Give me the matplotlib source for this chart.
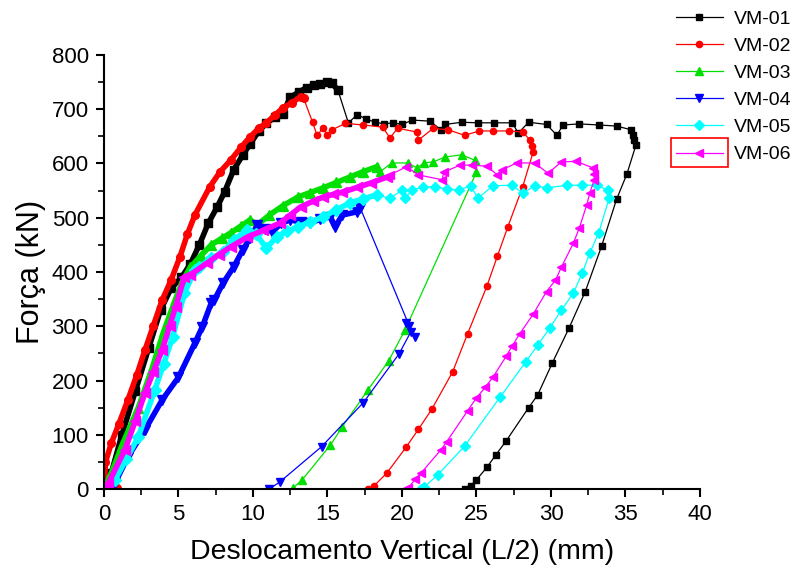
import matplotlib.pyplot as plt
from matplotlib.patches import Rectangle

plt.rcParams['font.family'] = ['Liberation Sans', 'DejaVu Sans']

# VM-01 (black squares): dense loading branch, then plateau + unloading
vm01_load_x = [0.3, 0.5, 1.2, 2.1, 3.0, 3.8, 4.5, 5.2, 5.8, 6.4, 7.0, 7.6, 8.1, 8.7, 9.3, 9.8,
               10.4, 10.9, 11.5, 12.0, 12.5, 13.1, 13.6, 14.1, 14.5, 15.0, 15.3, 15.7]
vm01_load_y = [0, 30, 100, 180, 260, 330, 370, 390, 415, 450, 490, 520, 548, 588, 615, 636,
               660, 675, 685, 692, 722, 732, 740, 744, 747, 750, 748, 735]
vm01_rest_x = [15.7, 16.4, 17.0, 17.6, 18.2, 18.8, 19.4, 20.0, 20.7, 21.9, 22.6, 22.9, 24.0, 25.1,
               26.2, 27.4, 27.8, 28.5, 29.7, 30.4, 30.8, 31.9, 33.2, 34.4, 35.4, 35.5, 35.6, 35.7,
               35.1, 34.4, 33.4, 32.3, 31.2, 30.1, 29.1, 28.5, 27.0, 26.3, 25.7, 25.0, 24.6, 24.2]
vm01_rest_y = [735, 675, 690, 682, 676, 673, 675, 672, 680, 678, 662, 672, 676, 675,
               675, 675, 656, 676, 672, 652, 671, 673, 671, 669, 662, 652, 643, 634,
               581, 534, 448, 364, 296, 233, 173, 150, 89, 63, 40, 17, 6, 0]

# VM-02 (red circles)
vm02_load_x = [0.9, 0.7, 0.05, 0.1, 0.5, 1.0, 1.6, 2.2, 2.75, 3.3, 3.9, 4.5, 5.1, 5.6, 6.1, 7.1,
               7.8, 8.5, 9.2, 9.8, 10.4, 10.9, 11.5, 12.0, 12.6, 13.2, 13.4]
vm02_load_y = [2, 10, 20, 50, 85, 120, 164, 210, 256, 300, 348, 385, 428, 470, 505, 557,
               585, 606, 630, 649, 665, 675, 690, 702, 712, 723, 720]
vm02_rest_x = [13.4, 14.0, 14.3, 14.7, 15.0, 15.3, 16.2, 17.4, 18.7, 19.2, 19.7, 21.0, 21.1, 22.1,
               23.1, 24.2, 25.2, 26.1, 27.2, 28.1, 28.6, 28.7, 28.8, 28.1, 27.1, 26.4, 25.7,
               24.4, 23.4, 22.0, 21.1, 20.3, 19.0, 18.1, 17.7]
vm02_rest_y = [720, 676, 652, 665, 653, 662, 674, 671, 667, 647, 665, 658, 643, 665,
               662, 652, 660, 660, 660, 658, 643, 632, 621, 557, 483, 429, 374,
               286, 216, 147, 110, 78, 30, 5, 0]

# VM-03 (green triangles up)
vm03_load_x = [0.0, 0.5, 1.2, 2.3, 3.2, 4.0, 4.8, 5.3, 5.8, 6.5, 7.2, 7.9, 8.5, 9.2, 9.8, 10.3,
               11.1, 12.0, 13.0, 13.8, 14.7, 15.6, 16.5, 17.4, 18.3]
vm03_load_y = [0, 30, 80, 150, 220, 290, 350, 385, 409, 430, 450, 462, 472, 485, 496, 487,
               505, 522, 538, 546, 555, 565, 575, 585, 594]
vm03_rest_x = [18.3, 18.5, 19.3, 20.4, 21.0, 21.5, 22.1, 22.9, 24.0, 24.9, 25.0,
               20.2, 19.1, 17.7, 16.0, 15.2, 13.3, 12.7]
vm03_rest_y = [594, 584, 601, 601, 592, 601, 603, 612, 616, 606, 584,
               293, 236, 182, 115, 81, 17, 2]

# VM-04 (blue triangles down)
vm04_load_x = [0.2, 0.74, 1.6, 2.75, 3.9, 5.0, 6.1, 6.6, 7.2, 7.4, 8.0, 8.7, 9.3, 9.8, 10.3,
               10.8, 11.3, 11.9, 12.5, 13.2, 13.8, 14.5, 15.2, 15.5, 16.0, 17.0, 17.2]
vm04_load_y = [0, 11, 59, 109, 164, 206, 269, 299, 343, 348, 380, 409, 440, 462, 487,
               480, 474, 490, 496, 492, 490, 497, 502, 483, 505, 511, 518]
vm04_rest_x = [17.2, 20.5, 20.3, 20.9, 20.6, 19.8, 17.4, 14.6, 11.8, 11.1]
vm04_rest_y = [518, 300, 306, 280, 290, 249, 159, 78, 13, 0]

# VM-05 (cyan diamonds)
vm05_load_x = [0.0, 0.74, 1.5, 2.3, 3.4, 4.0, 4.6, 5.4, 6.1, 6.4, 7.2, 8.0, 8.7, 9.6, 10.2,
               10.9, 11.6, 12.3, 13.0, 13.8, 14.7, 15.6, 16.5, 17.4, 18.3]
vm05_load_y = [0, 17, 55, 96, 182, 230, 280, 361, 404, 409, 425, 437, 459, 477, 470,
               444, 465, 475, 483, 492, 501, 515, 527, 535, 542]
vm05_rest_x = [18.3, 19.2, 20.0, 20.2, 20.7, 21.4, 22.2, 23.0, 23.8, 24.6, 25.1, 26.1, 27.4,
               28.1, 28.9, 29.7, 31.1, 32.1, 33.1, 33.8, 33.9, 33.2, 32.6, 32.1, 31.5, 30.7,
               29.9, 29.1, 28.3, 26.6, 24.2, 22.4, 21.5, 21.3]
vm05_rest_y = [542, 536, 551, 536, 551, 557, 557, 553, 551, 559, 536, 559, 560,
               545, 559, 555, 560, 560, 560, 551, 536, 472, 435, 398, 361, 330,
               296, 265, 234, 170, 79, 26, 4, 0]

# VM-06 (magenta triangles left)
vm06_load_x = [0.0, 0.3, 1.4, 2.1, 2.75, 3.3, 3.9, 4.4, 4.8, 5.4, 5.8, 6.9, 7.7, 8.5, 9.6, 10.7,
               11.8, 12.5, 13.2, 14.0, 14.7, 15.4, 16.0, 17.0, 17.9, 19.0]
vm06_load_y = [0, 11, 72, 125, 177, 215, 256, 300, 335, 391, 395, 416, 432, 446, 464, 477,
               490, 505, 520, 530, 538, 543, 547, 556, 564, 575]
vm06_rest_x = [19.0, 19.2, 20.3, 21.1, 22.7, 22.8, 23.9, 24.7, 25.7, 26.4, 26.7, 27.7, 28.9, 29.8,
               30.7, 31.7, 32.8, 32.9, 32.9, 32.6, 32.4, 31.9, 31.5, 30.7, 30.3, 29.7, 28.8,
               27.9, 27.4, 27.0, 26.1, 25.6, 25.0, 24.4, 23.0, 22.6, 21.3, 20.9, 20.4, 20.2]
vm06_rest_y = [575, 579, 594, 579, 570, 584, 597, 597, 595, 579, 588, 601, 601, 582,
               603, 604, 592, 580, 570, 545, 524, 481, 453, 409, 385, 364, 322,
               286, 264, 245, 206, 188, 168, 144, 87, 72, 30, 18, 2, 0]

labels = ['VM-01', 'VM-02', 'VM-03', 'VM-04', 'VM-05', 'VM-06']
colors = ['#000000', '#ff0000', '#00e000', '#0000ff', '#00ffff', '#ff00ff']
markers = ['s', 'o', '^', 'v', 'D', '<']
msizes = [4.5, 4.5, 5.5, 5.5, 5.5, 5.5]
series = [
    (vm01_load_x, vm01_load_y, vm01_rest_x, vm01_rest_y),
    (vm02_load_x, vm02_load_y, vm02_rest_x, vm02_rest_y),
    (vm03_load_x, vm03_load_y, vm03_rest_x, vm03_rest_y),
    (vm04_load_x, vm04_load_y, vm04_rest_x, vm04_rest_y),
    (vm05_load_x, vm05_load_y, vm05_rest_x, vm05_rest_y),
    (vm06_load_x, vm06_load_y, vm06_rest_x, vm06_rest_y),
]

fig = plt.figure(figsize=(7.95, 5.77), dpi=100)
ax = fig.add_axes([0.1308, 0.1525, 0.7497, 0.7522])

for (lx, ly, rx, ry), lab, c, m, ms in zip(series, labels, colors, markers, msizes):
    # dense measured branch drawn as a thick band of markers
    ax.plot(lx, ly, color=c, lw=4, marker=m, ms=ms + 1, mec=c, solid_joinstyle='round')
    ax.plot(rx, ry, color=c, lw=0.9, marker=m, ms=ms, mec=c, label=lab)

ax.set_xlim(0, 40)
ax.set_ylim(0, 800)
ax.set_xticks(range(0, 41, 5))
ax.set_yticks(range(0, 801, 100))
ax.set_xticks([x + 2.5 for x in range(0, 40, 5)], minor=True)
ax.set_yticks([y + 50 for y in range(0, 800, 100)], minor=True)
for s in ['top', 'right']:
    ax.spines[s].set_visible(False)
for s in ['left', 'bottom']:
    ax.spines[s].set_linewidth(1.5)
ax.tick_params(which='major', direction='out', length=6, width=1.5, labelsize=16, pad=5)
ax.tick_params(which='minor', direction='out', length=4, width=1.2)
ax.set_xlabel('Deslocamento Vertical (L/2) (mm)', fontsize=20.5, labelpad=10)
ax.set_ylabel('Força (kN)', fontsize=22, labelpad=4)

leg = fig.legend(loc='upper left', bbox_to_anchor=(0.837, 1.0), frameon=False, fontsize=14,
                 handlelength=2.45, labelspacing=0.49, handletextpad=0.55, borderaxespad=0.12)

# red selection box around the VM-06 legend sample
fig.canvas.draw()
r = fig.canvas.get_renderer()
bb = leg.get_lines()[5].get_window_extent(r)
inv = fig.transFigure.inverted()
(x0, y0), (x1, y1) = inv.transform([(bb.x0 - 1, bb.y0 - 11), (bb.x1 + 1, bb.y1 + 11)])
fig.patches.append(Rectangle((x0, y0), x1 - x0, y1 - y0, transform=fig.transFigure,
                             fill=False, edgecolor='red', lw=1.2))

fig.savefig('out.png', dpi=100)
